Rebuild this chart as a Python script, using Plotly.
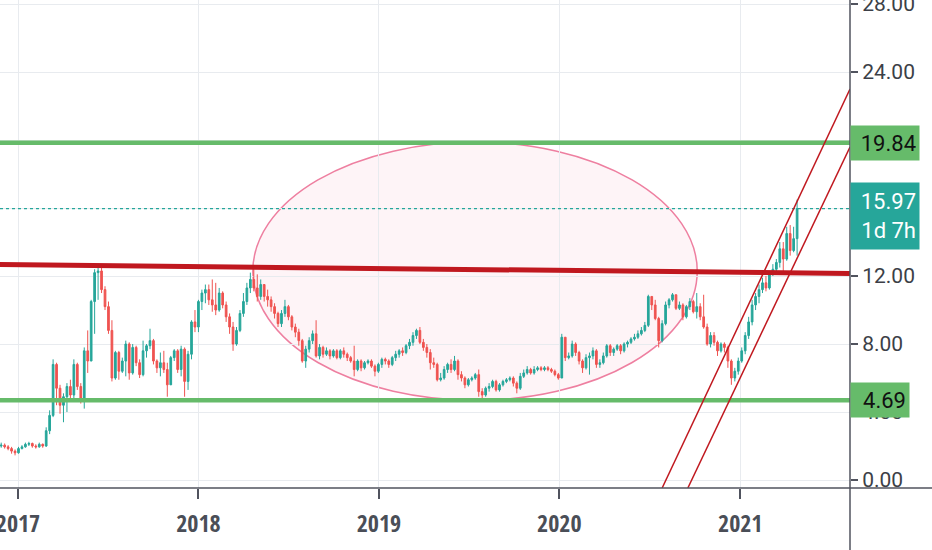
import plotly.graph_objects as go
import pandas as pd

# ---------------- data (weekly candles) ----------------
first_week = "2016-11-28"
n_weeks = 231
week_dates = pd.date_range(first_week, periods=n_weeks, freq="7D")

opens = [
    2.00, 2.05, 1.95, 1.85, 1.70, 1.60, 1.85, 1.95, 2.10, 2.15,
    2.00, 1.95, 2.10, 2.00, 2.90, 3.80, 6.80, 5.40, 4.40, 4.90,
    5.50, 5.00, 6.80, 5.50, 4.80, 7.60, 7.00, 10.50, 12.20, 12.30,
    11.20, 10.20, 8.80, 6.00, 7.50, 6.40, 7.00, 8.00, 6.30, 7.80,
    6.90, 6.20, 7.60, 7.90, 8.20, 7.00, 6.60, 6.90, 6.50, 5.60,
    7.20, 7.60, 6.50, 7.70, 5.80, 7.40, 9.30, 9.00, 10.50, 11.00,
    11.20, 10.60, 10.30, 10.00, 11.00, 10.30, 9.60, 9.00, 8.00, 8.80,
    9.80, 10.50, 11.30, 11.80, 11.30, 10.80, 11.50, 10.80, 10.60, 10.20,
    9.80, 9.20, 9.80, 10.20, 9.60, 9.00, 8.70, 8.20, 7.00, 7.70,
    8.20, 8.60, 7.30, 7.80, 7.40, 7.60, 7.30, 7.60, 7.20, 7.60,
    7.40, 7.20, 7.00, 6.50, 7.00, 6.60, 6.90, 7.00, 6.70, 6.40,
    6.80, 7.10, 7.00, 6.80, 7.20, 7.40, 7.60, 7.50, 7.90, 8.10,
    8.50, 8.80, 8.10, 7.80, 7.50, 6.90, 6.80, 5.90, 6.00, 6.50,
    6.80, 6.50, 7.00, 6.20, 6.00, 5.60, 5.90, 6.00, 6.20, 5.20,
    5.00, 5.40, 5.50, 5.80, 5.30, 5.60, 5.80, 5.90, 6.00, 5.70,
    5.40, 6.10, 6.30, 6.50, 6.30, 6.50, 6.60, 6.50, 6.60, 6.50,
    6.40, 6.20, 6.00, 8.40, 7.20, 7.30, 8.00, 7.50, 7.00, 6.60,
    7.20, 7.30, 7.60, 6.80, 6.90, 7.30, 7.90, 7.50, 7.70, 7.90,
    7.60, 8.00, 8.10, 8.30, 8.40, 8.60, 8.80, 9.10, 10.80, 10.30,
    9.50, 8.20, 9.20, 10.30, 10.60, 10.90, 10.10, 10.30, 9.60, 10.20,
    10.50, 9.90, 10.20, 9.60, 9.00, 8.00, 8.50, 8.10, 7.60, 8.00,
    7.80, 7.00, 6.00, 6.40, 7.00, 7.60, 8.50, 9.30, 10.30, 10.80,
    11.20, 11.60, 11.30, 12.10, 12.40, 12.80, 13.60, 13.00, 14.50, 13.50, 14.20,
]
highs = [
    2.20, 2.15, 2.05, 1.95, 1.80, 1.95, 2.05, 2.20, 2.25, 2.20,
    2.10, 2.20, 2.15, 3.10, 4.10, 7.10, 6.90, 5.60, 5.10, 5.70,
    5.90, 7.10, 6.90, 5.70, 7.80, 8.80, 10.60, 12.40, 12.60, 12.60,
    11.40, 10.50, 9.40, 7.60, 7.60, 7.20, 8.20, 8.10, 8.00, 7.90,
    7.10, 8.20, 8.00, 8.90, 8.30, 7.10, 7.50, 7.60, 6.90, 7.30,
    7.70, 7.70, 7.90, 7.80, 7.60, 9.40, 10.00, 10.60, 11.20, 11.50,
    11.50, 11.80, 11.60, 11.30, 11.10, 10.50, 9.80, 9.30, 9.00, 10.00,
    11.00, 11.60, 12.20, 12.50, 12.10, 11.80, 11.50, 11.20, 10.80, 10.40,
    9.90, 10.00, 10.60, 10.30, 9.70, 9.20, 8.90, 8.30, 7.90, 8.40,
    8.80, 9.40, 8.00, 7.90, 7.80, 7.70, 7.70, 7.70, 7.70, 7.80,
    7.50, 7.30, 7.90, 7.10, 7.10, 7.00, 7.10, 7.10, 6.80, 6.90,
    7.20, 7.20, 7.10, 7.30, 7.60, 7.70, 7.80, 8.00, 8.30, 8.70,
    8.90, 9.00, 8.30, 8.00, 7.70, 7.20, 6.90, 6.30, 6.70, 6.90,
    7.10, 7.30, 7.10, 6.40, 6.10, 6.00, 6.10, 6.30, 6.50, 5.40,
    5.50, 5.70, 5.90, 5.90, 5.70, 5.90, 6.00, 6.10, 6.10, 5.80,
    6.30, 6.50, 6.70, 6.60, 6.70, 6.70, 6.70, 6.70, 6.70, 6.60,
    6.50, 6.30, 8.60, 8.40, 7.50, 8.20, 8.10, 7.60, 7.10, 7.40,
    7.50, 7.80, 7.70, 7.10, 7.50, 8.00, 8.00, 7.80, 8.00, 8.00,
    8.10, 8.20, 8.40, 8.60, 8.80, 9.00, 9.30, 10.90, 10.80, 10.60,
    9.60, 9.40, 10.50, 10.70, 11.00, 10.90, 10.50, 10.40, 10.30, 10.70,
    10.60, 11.00, 10.40, 10.90, 9.20, 8.70, 8.70, 8.20, 8.10, 8.10,
    7.90, 7.10, 6.60, 7.20, 7.80, 8.70, 9.60, 10.60, 11.00, 11.50,
    11.90, 12.00, 12.30, 12.70, 13.00, 14.00, 14.00, 14.90, 15.00, 14.90, 16.50,
]
lows = [
    1.90, 1.85, 1.75, 1.55, 1.45, 1.55, 1.80, 1.90, 2.00, 1.90,
    1.85, 1.90, 1.90, 1.95, 2.70, 3.70, 4.40, 3.90, 3.40, 4.00,
    4.80, 4.80, 5.30, 4.50, 4.20, 6.30, 7.00, 8.60, 10.60, 11.00,
    10.00, 8.60, 5.80, 5.90, 5.90, 6.30, 6.10, 5.90, 6.20, 6.70,
    6.00, 6.10, 7.20, 7.70, 6.80, 6.30, 6.10, 6.30, 4.90, 5.70,
    7.00, 6.30, 6.10, 4.90, 5.30, 7.10, 8.70, 8.70, 10.00, 10.40,
    10.30, 9.90, 9.70, 9.90, 10.10, 9.30, 8.60, 7.60, 7.90, 8.70,
    9.60, 10.30, 11.00, 11.10, 10.50, 10.60, 10.50, 10.20, 9.90, 9.50,
    9.00, 9.00, 9.60, 9.40, 8.80, 8.40, 7.90, 6.90, 6.60, 7.50,
    8.00, 7.20, 7.10, 7.20, 7.30, 7.10, 7.20, 7.10, 7.10, 7.20,
    7.00, 6.90, 6.10, 6.40, 6.40, 6.50, 6.80, 6.60, 6.10, 6.30,
    6.60, 6.80, 6.60, 6.70, 7.00, 7.20, 7.30, 7.40, 7.70, 7.90,
    8.30, 8.00, 7.60, 7.20, 6.50, 6.60, 5.80, 5.80, 5.90, 6.30,
    6.30, 6.40, 5.90, 5.80, 5.40, 5.50, 5.80, 5.90, 4.90, 4.75,
    4.90, 5.20, 5.40, 5.20, 5.20, 5.50, 5.70, 5.80, 5.50, 5.10,
    5.30, 6.00, 6.20, 6.20, 6.20, 6.40, 6.40, 6.40, 6.40, 6.30,
    6.10, 5.90, 6.00, 7.00, 7.10, 7.20, 7.30, 6.80, 6.30, 6.50,
    6.20, 7.10, 6.60, 6.60, 6.80, 7.20, 7.30, 7.30, 7.60, 7.40,
    7.50, 7.80, 8.00, 8.20, 8.30, 8.50, 8.70, 9.00, 10.00, 9.40,
    7.80, 8.10, 9.10, 10.10, 10.50, 10.00, 10.00, 9.40, 9.50, 10.00,
    9.80, 9.50, 9.40, 8.90, 7.90, 7.80, 7.90, 7.30, 7.50, 7.50,
    6.60, 5.60, 5.80, 6.20, 6.90, 7.40, 8.30, 9.10, 10.00, 10.40,
    11.00, 11.10, 11.20, 12.00, 12.20, 12.50, 12.20, 12.90, 13.20, 13.40, 13.20,
]
closes = [
    2.05, 1.95, 1.85, 1.70, 1.60, 1.85, 1.95, 2.10, 2.15, 2.00,
    1.95, 2.10, 2.00, 2.90, 3.80, 6.80, 5.40, 4.40, 4.90, 5.50,
    5.00, 6.80, 5.50, 4.80, 7.60, 7.00, 10.50, 12.20, 12.30, 11.20,
    10.20, 8.80, 6.00, 7.50, 6.40, 7.00, 8.00, 6.30, 7.80, 6.90,
    6.20, 7.60, 7.90, 8.20, 7.00, 6.60, 6.90, 6.50, 5.60, 7.20,
    7.60, 6.50, 7.70, 5.80, 7.40, 9.30, 9.00, 10.50, 11.00, 11.20,
    10.60, 10.30, 10.00, 11.00, 10.30, 9.60, 9.00, 8.00, 8.80, 9.80,
    10.50, 11.30, 11.80, 11.30, 10.80, 11.50, 10.80, 10.60, 10.20, 9.80,
    9.20, 9.80, 10.20, 9.60, 9.00, 8.70, 8.20, 7.00, 7.70, 8.20,
    8.60, 7.30, 7.80, 7.40, 7.60, 7.30, 7.60, 7.20, 7.60, 7.40,
    7.20, 7.00, 6.50, 7.00, 6.60, 6.90, 7.00, 6.70, 6.40, 6.80,
    7.10, 7.00, 6.80, 7.20, 7.40, 7.60, 7.50, 7.90, 8.10, 8.50,
    8.80, 8.10, 7.80, 7.50, 6.90, 6.80, 5.90, 6.00, 6.50, 6.80,
    6.50, 7.00, 6.20, 6.00, 5.60, 5.90, 6.00, 6.20, 5.20, 5.00,
    5.40, 5.50, 5.80, 5.30, 5.60, 5.80, 5.90, 6.00, 5.70, 5.40,
    6.10, 6.30, 6.50, 6.30, 6.50, 6.60, 6.50, 6.60, 6.50, 6.40,
    6.20, 6.00, 8.40, 7.20, 7.30, 8.00, 7.50, 7.00, 6.60, 7.20,
    7.30, 7.60, 6.80, 6.90, 7.30, 7.90, 7.50, 7.70, 7.90, 7.60,
    8.00, 8.10, 8.30, 8.40, 8.60, 8.80, 9.10, 10.80, 10.30, 9.50,
    8.20, 9.20, 10.30, 10.60, 10.90, 10.10, 10.30, 9.60, 10.20, 10.50,
    9.90, 10.20, 9.60, 9.00, 8.00, 8.50, 8.10, 7.60, 8.00, 7.80,
    7.00, 6.00, 6.40, 7.00, 7.60, 8.50, 9.30, 10.30, 10.80, 11.20,
    11.60, 11.30, 12.10, 12.40, 12.80, 13.60, 13.00, 14.50, 13.50, 14.20, 15.97,
]

# axis / levels
year_ticks = ["2017-01-01", "2018-01-01", "2019-01-01", "2020-01-01", "2021-01-01"]
year_labels = ["2017", "2018", "2019", "2020", "2021"]
price_ticks = [0, 4, 8, 12, 16, 20, 24, 28]
price_labels = ["0.00", "4.00", "8.00", "12.00", "16.00", "20.00", "24.00", "28.00"]
x_range = ["2016-11-25 14:00", "2021-08-11"]
y_range = [-0.47, 28.24]

support_level = 4.69
resistance_level = 19.84
last_price = 15.97
countdown = "1d 7h"

# drawings
red_line = (("2016-11-25 14:00", 12.68), ("2021-08-11", 12.15))
ellipse_box = (("2018-04-21", 4.69), ("2020-10-06", 19.88))
channel_upper = (("2020-07-27", -0.47), ("2021-08-11", 23.0))
channel_lower = (("2020-09-17", -0.47), ("2021-08-11", 19.59))

GREEN = "#26a69a"
RED = "#ef5350"
LEVEL_GREEN = "#66bb6a"
DARK_RED = "#c0181f"
FONT = "Roboto, sans-serif"
XFONT = "Open Sans Condensed, Roboto, sans-serif"

fig = go.Figure()
fig.add_trace(go.Candlestick(
    x=week_dates, open=opens, high=highs, low=lows, close=closes,
    increasing=dict(line=dict(color=GREEN, width=1), fillcolor=GREEN),
    decreasing=dict(line=dict(color=RED, width=1), fillcolor=RED),
    whiskerwidth=0, showlegend=False, hoverinfo="skip",
))

shapes = []
shapes.append(dict(type="circle", xref="x", yref="y",
                   x0=ellipse_box[0][0], y0=ellipse_box[0][1],
                   x1=ellipse_box[1][0], y1=ellipse_box[1][1],
                   line=dict(color="#ee7fa0", width=1.5),
                   fillcolor="rgba(248,187,208,0.16)", layer="below"))
for lvl in (resistance_level, support_level):
    shapes.append(dict(type="line", xref="paper", yref="y", x0=0, x1=1, y0=lvl, y1=lvl,
                       line=dict(color=LEVEL_GREEN, width=4.5)))
shapes.append(dict(type="line", xref="paper", yref="y", x0=0, x1=1, y0=last_price, y1=last_price,
                   line=dict(color=GREEN, width=1.2, dash="dot")))
shapes.append(dict(type="line", xref="x", yref="y",
                   x0=red_line[0][0], y0=red_line[0][1], x1=red_line[1][0], y1=red_line[1][1],
                   line=dict(color=DARK_RED, width=5)))
for ln in (channel_upper, channel_lower):
    shapes.append(dict(type="line", xref="x", yref="y",
                       x0=ln[0][0], y0=ln[0][1], x1=ln[1][0], y1=ln[1][1],
                       line=dict(color=DARK_RED, width=1.5)))
shapes.append(dict(type="line", xref="paper", yref="paper", x0=0, x1=1.1, y0=0, y1=0,
                   line=dict(color="#50535e", width=1.5)))
shapes.append(dict(type="line", xref="paper", yref="paper", x0=1, x1=1, y0=-0.2, y1=1,
                   line=dict(color="#50535e", width=1.5)))

annotations = [
    dict(xref="paper", yref="y", x=1, y=resistance_level, xanchor="left", yanchor="middle",
         text=f"{resistance_level:.2f}", showarrow=False, align="right", width=62, height=28,
         bgcolor=LEVEL_GREEN, borderpad=3, font=dict(family=FONT, size=22, color="#111")),
    dict(xref="paper", yref="y", x=1, y=last_price, xanchor="left", yanchor="top", yshift=27,
         text=f"{last_price:.2f}<br>{countdown}", showarrow=False, align="right", width=62, height=60,
         bgcolor=GREEN, borderpad=3, font=dict(family=FONT, size=22, color="white")),
    dict(xref="paper", yref="y", x=1, y=support_level, xanchor="left", yanchor="middle",
         text=f"{support_level:.2f}", showarrow=False, align="right", width=52, height=28,
         bgcolor=LEVEL_GREEN, borderpad=3, font=dict(family=FONT, size=22, color="#111")),
]

fig.update_layout(
    width=932, height=550,
    margin=dict(l=0, r=82, t=0, b=62, autoexpand=False),
    paper_bgcolor="white", plot_bgcolor="white",
    shapes=shapes, annotations=annotations,
    showlegend=False,
    xaxis=dict(type="date", range=x_range, tickvals=year_ticks, ticktext=year_labels,
               rangeslider=dict(visible=False), showgrid=True, gridcolor="#e8ebef",
               ticks="outside", ticklen=10, tickcolor="#50535e", tickwidth=1.5, automargin=False,
               showline=False, zeroline=False, ticklabeloverflow="allow", ticklabelstandoff=4,
               tickfont=dict(family=XFONT, size=24, color="#4a4e57", weight="bold")),
    yaxis=dict(side="right", range=y_range, tickvals=price_ticks, ticktext=price_labels,
               showgrid=True, gridcolor="#e8ebef", zeroline=False, ticklabeloverflow="allow",
               ticks="outside", ticklen=7, tickcolor="#50535e", tickwidth=1.5, showline=False,
               automargin=False, tickfont=dict(family=FONT, size=21, color="#3c3f47")),
)

fig.write_html("out.html", config=dict(displayModeBar=False),
               post_script="document.body.style.margin='0';document.body.style.overflow='hidden';")
